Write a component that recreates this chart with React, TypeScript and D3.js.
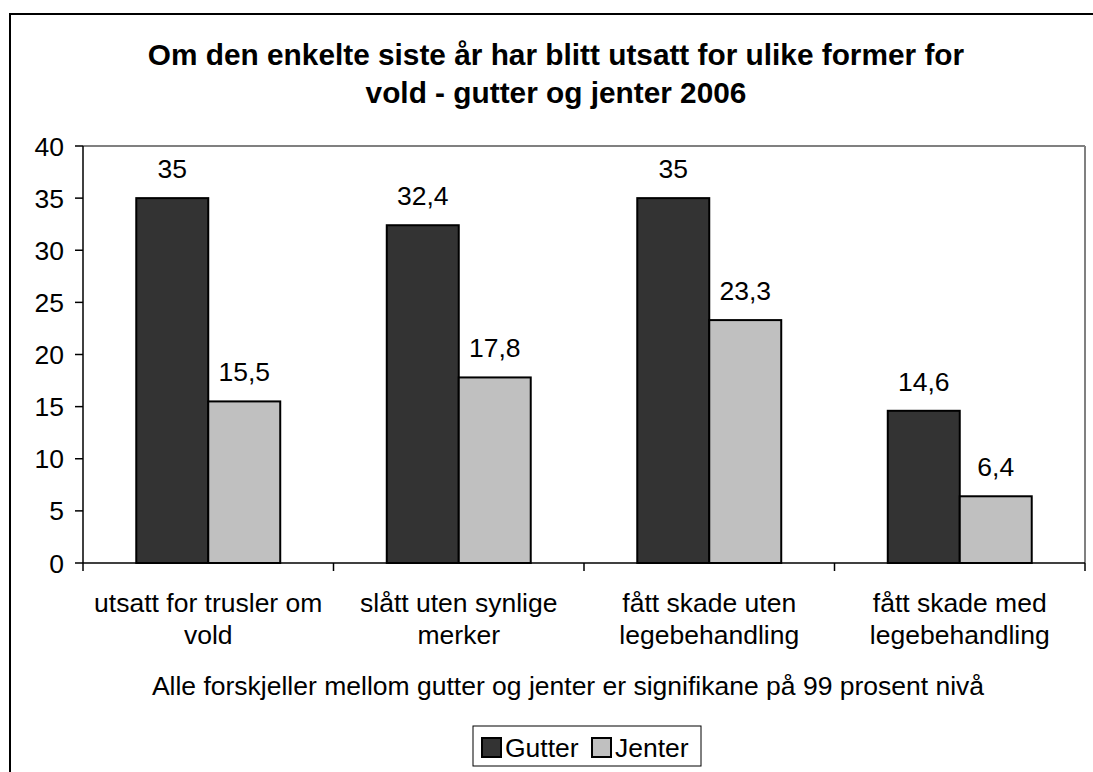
import React from 'react';
import * as d3 from 'd3';

const categories = [
  ['utsatt for trusler om', 'vold'],
  ['slått uten synlige', 'merker'],
  ['fått skade uten', 'legebehandling'],
  ['fått skade med', 'legebehandling'],
];
const seriesNames = ['Gutter', 'Jenter'];
const gutter = [35, 32.4, 35, 14.6];
const jenter = [15.5, 17.8, 23.3, 6.4];
const yTicks = [0, 5, 10, 15, 20, 25, 30, 35, 40];
const titleLines = [
  'Om den enkelte siste år har blitt utsatt for ulike former for',
  'vold - gutter og jenter 2006',
];
const note = 'Alle forskjeller mellom gutter og jenter er signifikane på 99 prosent nivå';

const colors = ['#333333', '#c0c0c0'];
const font = '"Liberation Sans", Arial, sans-serif';

const W = 1093;
const H = 772;
const plot = { left: 83, right: 1085, top: 146, bottom: 563 };

export default function App() {
  const idx = categories.map((_, i) => String(i));
  const x0 = d3.scaleBand().domain(idx).range([plot.left, plot.right]).padding(0);
  const x1 = d3.scaleBand().domain(seriesNames).range([0, x0.bandwidth()]).paddingInner(0).paddingOuter(0.74);
  const y = d3.scaleLinear().domain([0, 40]).range([plot.bottom, plot.top]);
  const values = [gutter, jenter];
  const fmt = (v: number) => String(v).replace('.', ',');

  return (
    <svg width={W} height={H} style={{ position: 'absolute', left: 0, top: 0, background: '#fff' }} fontFamily={font}>
      <rect x={0} y={0} width={W} height={H} fill="#fff" />
      {/* outer chart frame */}
      <rect x={10} y={14} width={W + 20} height={H + 20} fill="none" stroke="#000" strokeWidth={2} />

      {titleLines.map((t, i) => (
        <text key={i} x={556} y={65 + i * 38} textAnchor="middle" fontSize={29.8} fontWeight="bold" fill="#000">
          {t}
        </text>
      ))}

      {/* plot area border */}
      <line x1={plot.left} x2={plot.right} y1={plot.top} y2={plot.top} stroke="#808080" strokeWidth={2} />
      <line x1={plot.right} x2={plot.right} y1={plot.top} y2={plot.bottom} stroke="#808080" strokeWidth={2} />

      {/* bars */}
      {categories.map((_, ci) =>
        seriesNames.map((s, si) => {
          const v = values[si][ci];
          const bx = (x0(String(ci)) ?? 0) + (x1(s) ?? 0);
          return (
            <g key={`${ci}-${si}`}>
              <rect x={bx} y={y(v)} width={x1.bandwidth()} height={y(0) - y(v)} fill={colors[si]} stroke="#000" strokeWidth={2} />
              <text x={bx + x1.bandwidth() / 2} y={y(v) - 20} textAnchor="middle" fontSize={26.5} fill="#000">
                {fmt(v)}
              </text>
            </g>
          );
        })
      )}

      {/* y axis */}
      <line x1={plot.left} x2={plot.left} y1={plot.top} y2={plot.bottom} stroke="#000" strokeWidth={1.5} />
      {yTicks.map((t) => (
        <g key={t}>
          <line x1={plot.left - 8} x2={plot.left} y1={y(t)} y2={y(t)} stroke="#000" strokeWidth={1.5} />
          <text x={plot.left - 19} y={y(t) + 9.5} textAnchor="end" fontSize={26.5} fill="#000">
            {t}
          </text>
        </g>
      ))}

      {/* x axis */}
      <line x1={plot.left} x2={plot.right} y1={plot.bottom} y2={plot.bottom} stroke="#000" strokeWidth={1.5} />
      {d3.range(categories.length + 1).map((i) => {
        const tx = plot.left + i * x0.step();
        return <line key={i} x1={tx} x2={tx} y1={plot.bottom} y2={plot.bottom + 8} stroke="#000" strokeWidth={1.5} />;
      })}
      {categories.map((lines, ci) => (
        <text key={ci} textAnchor="middle" fontSize={26.5} fill="#000">
          {lines.map((l, li) => (
            <tspan key={li} x={(x0(String(ci)) ?? 0) + x0.bandwidth() / 2} y={612 + li * 32}>
              {l}
            </tspan>
          ))}
        </text>
      ))}

      <text x={568} y={695} textAnchor="middle" fontSize={26.5} fill="#000">
        {note}
      </text>

      {/* legend */}
      <rect x={473} y={726} width={228} height={40} fill="#fff" stroke="#000" strokeWidth={1} />
      {seriesNames.map((s, si) => {
        const lx = si === 0 ? 482 : 592;
        return (
          <g key={s}>
            <rect x={lx} y={738} width={19} height={19} fill={colors[si]} stroke="#000" strokeWidth={2} />
            <text x={lx + 23} y={757} fontSize={26.5} fill="#000">
              {s}
            </text>
          </g>
        );
      })}
    </svg>
  );
}
